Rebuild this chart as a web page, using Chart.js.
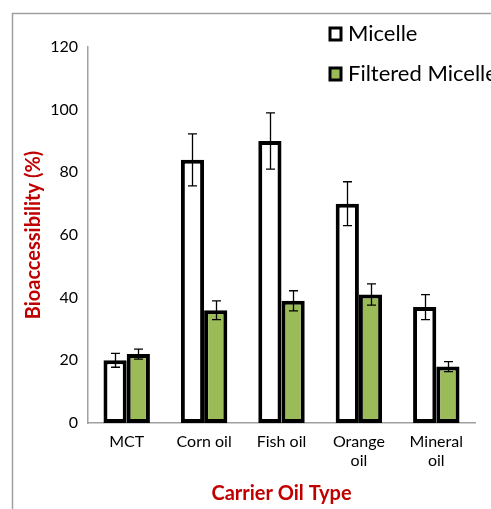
<!DOCTYPE html>
<html>
<head>
<meta charset="utf-8">
<script src="https://cdn.jsdelivr.net/npm/chart.js@4"></script>
<style>
  body { margin: 0; background: #fff; }
  #wrap { width: 491px; height: 509px; }
</style>
</head>
<body>
<div id="wrap"><canvas id="chart" width="491" height="509"></canvas></div>
<script>
const categories = ['MCT', 'Corn oil', 'Fish oil', ['Orange', 'oil'], ['Mineral', 'oil']];
const micelle = [20, 84, 90, 70, 37];
const micelleErr = [2.2, 8.3, 9, 7, 4];
const filtered = [22, 36, 39, 41, 18];
const filteredErr = [1.6, 3, 3.2, 3.4, 1.6];
const yTicks = [0, 20, 40, 60, 80, 100, 120];

const FONT = 'Lato, "Open Sans", sans-serif';

// gray frame like the office chart border
const framePlugin = {
    id: 'frame',
    beforeDraw(chart) {
        const ctx = chart.ctx;
        ctx.save();
        ctx.strokeStyle = '#a0a0a0';
        ctx.lineWidth = 1.5;
        ctx.beginPath();
        ctx.moveTo(12.5, 520);
        ctx.lineTo(12.5, 13.5);
        ctx.lineTo(500, 13.5);
        ctx.stroke();
        ctx.restore();
    }
};

// error bars from the err arrays
const errorBarPlugin = {
    id: 'errorBars',
    afterDatasetsDraw(chart) {
        const ctx = chart.ctx;
        const y = chart.scales.y;
        ctx.save();
        ctx.strokeStyle = '#000';
        ctx.lineWidth = 1.3;
        chart.data.datasets.forEach((ds, di) => {
            const meta = chart.getDatasetMeta(di);
            meta.data.forEach((bar, i) => {
                const v = ds.data[i];
                const e = ds.errors[i];
                const x = Math.round(bar.x) + 0.5;
                const top = y.getPixelForValue(v + e);
                const bot = y.getPixelForValue(v - e);
                ctx.beginPath();
                ctx.moveTo(x, top);
                ctx.lineTo(x, bot);
                ctx.moveTo(x - 4.5, top);
                ctx.lineTo(x + 4.5, top);
                ctx.moveTo(x - 4.5, bot);
                ctx.lineTo(x + 4.5, bot);
                ctx.stroke();
            });
        });
        ctx.restore();
    }
};

// vertical legend, top right, runs off the edge like the original
const legendPlugin = {
    id: 'sideLegend',
    afterDraw(chart) {
        const ctx = chart.ctx;
        ctx.save();
        ctx.font = '22px ' + FONT;
        ctx.textBaseline = 'middle';
        chart.data.datasets.forEach((ds, i) => {
            const cy = 34 + i * 40;
            ctx.fillStyle = ds.backgroundColor;
            ctx.fillRect(330, cy - 6, 11, 12);
            ctx.strokeStyle = '#000';
            ctx.lineWidth = 3;
            ctx.strokeRect(330, cy - 6, 11, 12);
            ctx.fillStyle = '#000';
            ctx.fillText(ds.label, 348, cy);
        });
        ctx.restore();
    }
};

new Chart(document.getElementById('chart'), {
    type: 'bar',
    data: {
        labels: categories,
        datasets: [{
            label: 'Micelle',
            data: micelle,
            errors: micelleErr,
            backgroundColor: '#ffffff',
            borderColor: '#000000',
            borderWidth: 4,
            borderSkipped: false
        }, {
            label: 'Filtered Micelle',
            data: filtered,
            errors: filteredErr,
            backgroundColor: '#9bbb59',
            borderColor: '#000000',
            borderWidth: 4,
            borderSkipped: false
        }]
    },
    options: {
        responsive: false,
        animation: false,
        layout: { padding: { top: 47, right: 16, left: 0, bottom: 0 } },
        datasets: { bar: { barPercentage: 1, categoryPercentage: 0.6 } },
        plugins: {
            legend: { display: false },
            tooltip: { enabled: false }
        },
        scales: {
            x: {
                grid: { display: false, drawTicks: false },
                border: { color: '#a0a0a0', width: 1.5 },
                ticks: { color: '#000', font: { family: FONT, size: 16 }, padding: 9, maxRotation: 0, autoSkip: false },
                title: {
                    display: true,
                    text: 'Carrier Oil Type',
                    color: '#c00000',
                    font: { family: FONT, size: 20, weight: 'bold' },
                    padding: { top: 0, bottom: 3 }
                },
                afterFit(scale) { scale.height = 86; }
            },
            y: {
                min: 0,
                max: 120,
                afterBuildTicks(scale) { scale.ticks = yTicks.map(v => ({ value: v })); },
                grid: { display: false, drawTicks: false },
                border: { color: '#a0a0a0', width: 1.5 },
                ticks: { color: '#000', font: { family: FONT, size: 16 }, padding: 10 },
                title: {
                    display: true,
                    text: 'Bioaccessibility (%)',
                    color: '#c00000',
                    font: { family: FONT, size: 20, weight: 'bold' },
                    padding: { top: 22, bottom: 0 }
                },
                afterFit(scale) { scale.width = 88; }
            }
        }
    },
    plugins: [framePlugin, errorBarPlugin, legendPlugin]
});
</script>
</body>
</html>
